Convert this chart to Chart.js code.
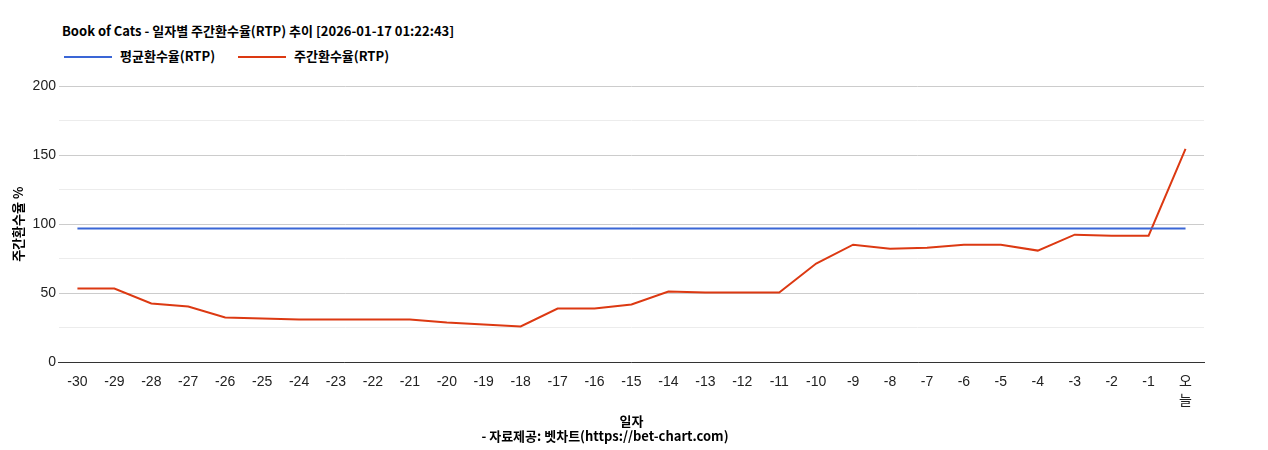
<!DOCTYPE html>
<html>
<head>
<meta charset="utf-8">
<script src="https://cdn.jsdelivr.net/npm/chart.js@4"></script>
<style>
  body { margin:0; background:#fff; font-family:'Noto Sans CJK KR', 'Noto Sans', sans-serif; }
  #head { height:70px; padding-left:62px; box-sizing:border-box; color:#000; font-weight:bold; font-size:13px; }
  #title { padding-top:20px; height:22px; line-height:22px; }
  #legend { margin-top:4px; line-height:20px; }
  .item { display:inline-block; margin-right:18px; }
  .sw { display:inline-block; width:48px; height:2px; vertical-align:middle; margin-right:8px; margin-left:2px; }
  #wrap { width:1268px; height:380px; }
</style>
</head>
<body>
<div id="head">
  <div id="title">Book of Cats - 일자별 주간환수율(RTP) 추이 [2026-01-17 01:22:43]</div>
  <div id="legend">
    <span class="item"><span class="sw" style="background:#3a66d6"></span>평균환수율(RTP)</span>
    <span class="item"><span class="sw" style="background:#dc3912"></span>주간환수율(RTP)</span>
  </div>
</div>
<div id="wrap"><canvas id="rtpChart"></canvas></div>
<script>
const days = ['-30','-29','-28','-27','-26','-25','-24','-23','-22','-21','-20','-19','-18','-17','-16','-15','-14','-13','-12','-11','-10','-9','-8','-7','-6','-5','-4','-3','-2','-1',['오','늘']];
const weeklyRtp = [53.4,53.4,42.6,40.4,32.5,31.8,31,31,31,31,28.9,27.4,26,39,39,41.9,51.3,50.5,50.5,50.5,71.5,85.2,82.3,83,85.2,85.2,80.9,92.4,91.7,91.7,154.5];
const avgRtp = days.map(() => 96.8);

const font = "'Noto Sans CJK KR', 'Noto Sans', sans-serif";
const tickFont = "'Liberation Sans', 'Noto Sans CJK KR', sans-serif";
Chart.defaults.font.family = font;
Chart.defaults.color = '#222';

const ctx = document.getElementById('rtpChart').getContext('2d');
new Chart(ctx, {
  type: 'line',
  data: {
    labels: days,
    datasets: [
      { label:'평균환수율(RTP)', data:avgRtp, borderColor:'#3a66d6', borderWidth:2, pointRadius:0, tension:0 },
      { label:'주간환수율(RTP)', data:weeklyRtp, borderColor:'#dc3912', borderWidth:2, pointRadius:0, tension:0 }
    ]
  },
  options: {
    responsive:true,
    maintainAspectRatio:false,
    animation:false,
    layout:{ padding:{ left:6, right:64, top:16, bottom:2 } },
    plugins:{
      legend:{ display:false },
      subtitle:{ display:true, position:'bottom', text:'- 자료제공: 벳차트(https://bet-chart.com)', color:'#000', font:{ size:13, weight:'bold' }, padding:{ top:0, bottom:4 } },
      tooltip:{ enabled:false }
    },
    scales:{
      x:{
        offset:true,
        grid:{ display:false },
        border:{ color:'#333' },
        ticks:{ color:'#222', font:{ size:14, family:tickFont, lineHeight:1.3 }, maxRotation:0, minRotation:0, autoSkip:false },
        title:{ display:true, text:'일자', color:'#000', font:{ size:13, weight:'bold' }, padding:{ top:0, bottom:0 } }
      },
      y:{
        min:0, max:200,
        ticks:{ stepSize:25, color:'#222', font:{ size:14, family:tickFont }, callback:v => v % 50 === 0 ? v : '' },
        grid:{ color:c => c.tick.value % 50 === 0 ? '#cccccc' : '#ececec', drawTicks:false },
        border:{ display:false },
        title:{ display:true, text:'주간환수율 %', color:'#000', font:{ size:13, weight:'bold' } }
      }
    }
  }
});
</script>
</body>
</html>
